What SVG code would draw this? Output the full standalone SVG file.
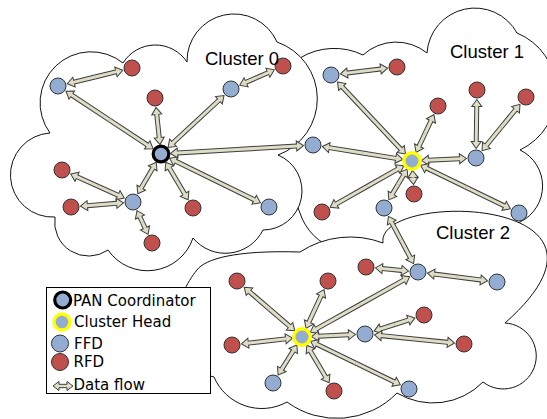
<svg xmlns="http://www.w3.org/2000/svg" width="547" height="419" viewBox="0 0 547 419">
<style>
.cloud{fill:#fff;stroke:#111;stroke-width:1}
.o{fill:none;stroke:#3d3d3d;stroke-width:5;stroke-dasharray:0 16.5 2000;marker-start:url(#ah)}
.f{fill:none;stroke:#deddc5;stroke-width:3;stroke-dasharray:0 15.5 2000}
.ffd{fill:#93acd2;stroke:#333;stroke-width:1}
.rfd{fill:#c0504d;stroke:#333;stroke-width:1}
.pan{fill:#93acd2;stroke:#000;stroke-width:3.2}
.ch{fill:#93acd2;stroke:#ffff00;stroke-width:3.4}
.cl{font-family:"Liberation Sans",Arial,sans-serif;font-size:18.5px;fill:#000}
.lg{font-family:"DejaVu Sans",sans-serif;font-size:15px;fill:#000}
</style>
<defs>
<marker id="ah" markerUnits="userSpaceOnUse" orient="auto" refX="0" refY="0" markerWidth="20" markerHeight="12" overflow="visible">
<path d="M9.5,0L16.5,-5L16.5,5Z" fill="#deddc5" stroke="#3d3d3d" stroke-width="1"/>
</marker>
</defs>
<rect width="547" height="419" fill="#fff"/>
<g id="clouds">
<path id="cloud1" class="cloud" d="M300,58A66 66 0 0 1 363,55A49 49 0 0 1 427,53A48 48 0 0 1 517,33A64 64 0 0 1 520,150A40 40 0 0 1 520,222Q485,245 450,238Q418,243 385,242A56 56 0 0 1 300,213L278,155L300,58Z"/>
<path id="cloud2" class="cloud" d="M214,377C150,362 178,292 197,270C205,259 235,250 300,252A92 92 0 0 1 383,243C375,190 650,195 505,323A33 33 0 1 1 483,382A70 70 0 0 1 397,393A84 84 0 0 1 287,402A52 52 0 0 1 214,377Z"/>
<path id="cloud0" class="cloud" d="M55,217A42 42 0 0 1 50,133A51 51 0 0 1 123,63A38 38 0 0 1 187,62A47 47 0 0 1 277,42A60 60 0 0 1 278,155A39 39 0 0 1 263,230A42 42 0 0 1 193,238A48 48 0 0 1 108,250A34 34 0 0 1 55,217Z"/>
</g>
<g id="connectors">
<g id="e1"><path class="o" d="M161,154L109.5,120"/><path class="o" d="M58,86L109.5,120"/><path class="f" d="M161,154L109.5,120"/><path class="f" d="M58,86L109.5,120"/></g>
<g id="e2"><path class="o" d="M58,86L95,77"/><path class="o" d="M132,68L95,77"/><path class="f" d="M58,86L95,77"/><path class="f" d="M132,68L95,77"/></g>
<g id="e3"><path class="o" d="M161,154L158,126"/><path class="o" d="M155,98L158,126"/><path class="f" d="M161,154L158,126"/><path class="f" d="M155,98L158,126"/></g>
<g id="e4"><path class="o" d="M161,154L196,121.5"/><path class="o" d="M231,89L196,121.5"/><path class="f" d="M161,154L196,121.5"/><path class="f" d="M231,89L196,121.5"/></g>
<g id="e5"><path class="o" d="M231,89L257,77.5"/><path class="o" d="M283,66L257,77.5"/><path class="f" d="M231,89L257,77.5"/><path class="f" d="M283,66L257,77.5"/></g>
<g id="e6"><path class="o" d="M161,154L147,178"/><path class="o" d="M133,202L147,178"/><path class="f" d="M161,154L147,178"/><path class="f" d="M133,202L147,178"/></g>
<g id="e7"><path class="o" d="M133,202L97.5,186"/><path class="o" d="M62,170L97.5,186"/><path class="f" d="M133,202L97.5,186"/><path class="f" d="M62,170L97.5,186"/></g>
<g id="e8"><path class="o" d="M133,202L102,204.5"/><path class="o" d="M71,207L102,204.5"/><path class="f" d="M133,202L102,204.5"/><path class="f" d="M71,207L102,204.5"/></g>
<g id="e9"><path class="o" d="M133,202L142.5,222.5"/><path class="o" d="M152,243L142.5,222.5"/><path class="f" d="M133,202L142.5,222.5"/><path class="f" d="M152,243L142.5,222.5"/></g>
<g id="e10"><path class="o" d="M161,154L177,181"/><path class="o" d="M193,208L177,181"/><path class="f" d="M161,154L177,181"/><path class="f" d="M193,208L177,181"/></g>
<g id="e11"><path class="o" d="M161,154L215,180.5"/><path class="o" d="M269,207L215,180.5"/><path class="f" d="M161,154L215,180.5"/><path class="f" d="M269,207L215,180.5"/></g>
<g id="e12"><path class="o" d="M161,154L237,149.5"/><path class="o" d="M313,145L237,149.5"/><path class="f" d="M161,154L237,149.5"/><path class="f" d="M313,145L237,149.5"/></g>
<g id="e13"><path class="o" d="M412,161L371.5,118"/><path class="o" d="M331,75L371.5,118"/><path class="f" d="M412,161L371.5,118"/><path class="f" d="M331,75L371.5,118"/></g>
<g id="e14"><path class="o" d="M331,75L364,71"/><path class="o" d="M397,67L364,71"/><path class="f" d="M331,75L364,71"/><path class="f" d="M397,67L364,71"/></g>
<g id="e15"><path class="o" d="M412,161L425,133.5"/><path class="o" d="M438,106L425,133.5"/><path class="f" d="M412,161L425,133.5"/><path class="f" d="M438,106L425,133.5"/></g>
<g id="e16"><path class="o" d="M412,161L444,159.5"/><path class="o" d="M476,158L444,159.5"/><path class="f" d="M412,161L444,159.5"/><path class="f" d="M476,158L444,159.5"/></g>
<g id="e17"><path class="o" d="M476,158L476.5,124"/><path class="o" d="M477,90L476.5,124"/><path class="f" d="M476,158L476.5,124"/><path class="f" d="M477,90L476.5,124"/></g>
<g id="e18"><path class="o" d="M476,158L501,127.5"/><path class="o" d="M526,97L501,127.5"/><path class="f" d="M476,158L501,127.5"/><path class="f" d="M526,97L501,127.5"/></g>
<g id="e19"><path class="o" d="M412,161L362.5,153"/><path class="o" d="M313,145L362.5,153"/><path class="f" d="M412,161L362.5,153"/><path class="f" d="M313,145L362.5,153"/></g>
<g id="e20"><path class="o" d="M412,161L413,177.5"/><path class="o" d="M414,194L413,177.5"/><path class="f" d="M412,161L413,177.5"/><path class="f" d="M414,194L413,177.5"/></g>
<g id="e21"><path class="o" d="M412,161L367,186.5"/><path class="o" d="M322,212L367,186.5"/><path class="f" d="M412,161L367,186.5"/><path class="f" d="M322,212L367,186.5"/></g>
<g id="e22"><path class="o" d="M412,161L398,184.5"/><path class="o" d="M384,208L398,184.5"/><path class="f" d="M412,161L398,184.5"/><path class="f" d="M384,208L398,184.5"/></g>
<g id="e23"><path class="o" d="M412,161L465.5,187"/><path class="o" d="M519,213L465.5,187"/><path class="f" d="M412,161L465.5,187"/><path class="f" d="M519,213L465.5,187"/></g>
<g id="e24"><path class="o" d="M384,208L401,240"/><path class="o" d="M418,272L401,240"/><path class="f" d="M384,208L401,240"/><path class="f" d="M418,272L401,240"/></g>
<g id="e25"><path class="o" d="M302,337L360,304.5"/><path class="o" d="M418,272L360,304.5"/><path class="f" d="M302,337L360,304.5"/><path class="f" d="M418,272L360,304.5"/></g>
<g id="e26"><path class="o" d="M418,272L392,269.5"/><path class="o" d="M366,267L392,269.5"/><path class="f" d="M418,272L392,269.5"/><path class="f" d="M366,267L392,269.5"/></g>
<g id="e27"><path class="o" d="M418,272L457.5,277"/><path class="o" d="M497,282L457.5,277"/><path class="f" d="M418,272L457.5,277"/><path class="f" d="M497,282L457.5,277"/></g>
<g id="e28"><path class="o" d="M302,337L269.5,309"/><path class="o" d="M237,281L269.5,309"/><path class="f" d="M302,337L269.5,309"/><path class="f" d="M237,281L269.5,309"/></g>
<g id="e29"><path class="o" d="M302,337L315,309"/><path class="o" d="M328,281L315,309"/><path class="f" d="M302,337L315,309"/><path class="f" d="M328,281L315,309"/></g>
<g id="e30"><path class="o" d="M302,337L333.5,335.5"/><path class="o" d="M365,334L333.5,335.5"/><path class="f" d="M302,337L333.5,335.5"/><path class="f" d="M365,334L333.5,335.5"/></g>
<g id="e31"><path class="o" d="M365,334L394.5,324.5"/><path class="o" d="M424,315L394.5,324.5"/><path class="f" d="M365,334L394.5,324.5"/><path class="f" d="M424,315L394.5,324.5"/></g>
<g id="e32"><path class="o" d="M365,334L414.5,339"/><path class="o" d="M464,344L414.5,339"/><path class="f" d="M365,334L414.5,339"/><path class="f" d="M464,344L414.5,339"/></g>
<g id="e33"><path class="o" d="M302,337L267,341"/><path class="o" d="M232,345L267,341"/><path class="f" d="M302,337L267,341"/><path class="f" d="M232,345L267,341"/></g>
<g id="e34"><path class="o" d="M302,337L287.5,360"/><path class="o" d="M273,383L287.5,360"/><path class="f" d="M302,337L287.5,360"/><path class="f" d="M273,383L287.5,360"/></g>
<g id="e35"><path class="o" d="M302,337L318,364"/><path class="o" d="M334,391L318,364"/><path class="f" d="M302,337L318,364"/><path class="f" d="M334,391L318,364"/></g>
<g id="e36"><path class="o" d="M302,337L355.5,363"/><path class="o" d="M409,389L355.5,363"/><path class="f" d="M302,337L355.5,363"/><path class="f" d="M409,389L355.5,363"/></g>
</g>
<g id="nodes">
<g id="pan0"><circle class="pan" cx="161" cy="154" r="7.8"/></g>
<g id="a1"><circle class="ffd" cx="58" cy="86" r="8"/></g>
<g id="a2"><circle class="rfd" cx="132" cy="68" r="8"/></g>
<g id="a3"><circle class="rfd" cx="155" cy="98" r="8"/></g>
<g id="a4"><circle class="ffd" cx="231" cy="89" r="8"/></g>
<g id="a5"><circle class="rfd" cx="283" cy="66" r="8"/></g>
<g id="a6"><circle class="rfd" cx="62" cy="170" r="8"/></g>
<g id="a7"><circle class="ffd" cx="133" cy="202" r="8"/></g>
<g id="a8"><circle class="rfd" cx="71" cy="207" r="8"/></g>
<g id="a9"><circle class="rfd" cx="193" cy="208" r="8"/></g>
<g id="a10"><circle class="ffd" cx="269" cy="207" r="8"/></g>
<g id="a11"><circle class="rfd" cx="152" cy="243" r="8"/></g>
<g id="head1"><circle class="ch" cx="412" cy="161" r="8.2"/></g>
<g id="b1"><circle class="ffd" cx="331" cy="75" r="8"/></g>
<g id="b2"><circle class="rfd" cx="397" cy="67" r="8"/></g>
<g id="b3"><circle class="rfd" cx="438" cy="106" r="8"/></g>
<g id="b4"><circle class="rfd" cx="477" cy="90" r="8"/></g>
<g id="b5"><circle class="rfd" cx="526" cy="97" r="8"/></g>
<g id="b6"><circle class="ffd" cx="313" cy="145" r="8"/></g>
<g id="b7"><circle class="ffd" cx="476" cy="158" r="8"/></g>
<g id="b8"><circle class="rfd" cx="414" cy="194" r="8"/></g>
<g id="b9"><circle class="rfd" cx="322" cy="212" r="8"/></g>
<g id="b10"><circle class="ffd" cx="384" cy="208" r="8"/></g>
<g id="b11"><circle class="ffd" cx="519" cy="213" r="8"/></g>
<g id="head2"><circle class="ch" cx="302" cy="337" r="8.2"/></g>
<g id="c1"><circle class="ffd" cx="418" cy="272" r="8"/></g>
<g id="c2"><circle class="rfd" cx="366" cy="267" r="8"/></g>
<g id="c3"><circle class="ffd" cx="497" cy="282" r="8"/></g>
<g id="c4"><circle class="rfd" cx="237" cy="281" r="8"/></g>
<g id="c5"><circle class="rfd" cx="328" cy="281" r="8"/></g>
<g id="c6"><circle class="ffd" cx="365" cy="334" r="8"/></g>
<g id="c7"><circle class="rfd" cx="424" cy="315" r="8"/></g>
<g id="c8"><circle class="rfd" cx="464" cy="344" r="8"/></g>
<g id="c9"><circle class="rfd" cx="232" cy="345" r="8"/></g>
<g id="c10"><circle class="ffd" cx="273" cy="383" r="8"/></g>
<g id="c11"><circle class="rfd" cx="334" cy="391" r="8"/></g>
<g id="c12"><circle class="ffd" cx="409" cy="389" r="8"/></g>
</g>
<g id="labels">
<text class="cl" x="205" y="65">Cluster 0</text>
<text class="cl" x="450" y="58">Cluster 1</text>
<text class="cl" x="436" y="239">Cluster 2</text>
</g>
<g id="legend">
<rect x="46.5" y="287.5" width="164" height="106" fill="#fff" stroke="#000" stroke-width="1"/>
<circle class="pan" cx="62.7" cy="300" r="8"/>
<circle class="ch" cx="62" cy="322" r="8"/>
<circle class="ffd" cx="60" cy="343.5" r="8.5"/>
<circle class="rfd" cx="60" cy="362" r="8.5"/>
<path d="M53,386L59,381.5L59,384.3L67,384.3L67,381.5L73,386L67,390.5L67,387.7L59,387.7L59,390.5Z" fill="#deddc5" stroke="#3d3d3d" stroke-width="1"/>
<text class="lg" x="73" y="306">PAN Coordinator</text>
<text class="lg" x="74" y="327">Cluster Head</text>
<text class="lg" x="74" y="348.5">FFD</text>
<text class="lg" x="73.5" y="367">RFD</text>
<text class="lg" x="73.5" y="390">Data flow</text>
</g>
</svg>
